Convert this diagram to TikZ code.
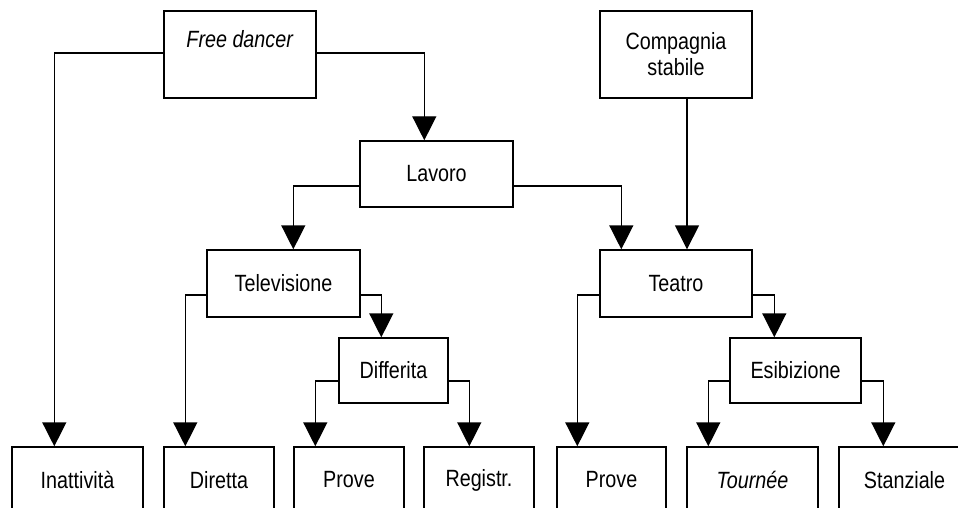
\documentclass[tikz,border=0pt]{standalone}
\usepackage{fontspec}
\setmainfont{Liberation Sans}[FakeStretch=0.84]
\usetikzlibrary{arrows.meta}
\begin{document}
\begin{tikzpicture}[x=1pt,y=-1pt,
  box/.style={draw=black,line width=1.4pt,inner sep=0pt,fill=white,
    font=\fontsize{23.5}{28}\selectfont,align=center},
  conn/.style={draw=black,line width=1.4pt,-{Triangle[width=24pt,length=24pt]}}]
\useasboundingbox (0,0) rectangle (958,508);
\clip (0,0) rectangle (958,508);
\fill[white] (0,0) rectangle (958,508);
% top row
\node[box,minimum width=152pt,minimum height=87pt] (FD) at (240,54.5) {\textit{Free dancer}\\[-2pt]\phantom{g}};
\node[box,minimum width=152pt,minimum height=87pt] (CS) at (676,54.5) {Compagnia\\[-2pt]stabile};
% level 2
\node[box,minimum width=153pt,minimum height=66pt] (Lav) at (436.5,174) {Lavoro};
% level 3
\node[box,minimum width=153pt,minimum height=67pt] (Tel) at (283.5,283.5) {Televisione};
\node[box,minimum width=152pt,minimum height=67pt] (Tea) at (676,283.5) {Teatro};
% level 4
\node[box,minimum width=109pt,minimum height=65pt] (Dif) at (393.5,370.5) {Differita};
\node[box,minimum width=131pt,minimum height=65pt] (Esi) at (795.5,370.5) {Esibizione};
% bottom row
\node[box,minimum width=131pt,minimum height=66pt] (Ina) at (77.5,480) {Inattività};
\node[box,minimum width=110pt,minimum height=66pt] (Dir) at (219,480) {Diretta};
\node[box,minimum width=110pt,minimum height=66pt] (Pro1) at (349,480) {Prove};
\node[box,minimum width=110pt,minimum height=66pt] (Reg) at (479,480) {Registr.};
\node[box,minimum width=109pt,minimum height=66pt] (Pro2) at (611.5,480) {Prove};
\node[box,minimum width=131pt,minimum height=66pt] (Tou) at (752.5,480) {\textit{Tournée}};
\node[box,minimum width=131pt,minimum height=66pt] (Sta) at (904.5,480) {Stanziale};
% connectors
\draw[conn] ([yshift=1.5pt]FD.west) -| ([xshift=43pt]Ina.north west);
\draw[conn] ([yshift=1.5pt]FD.east) -| ([xshift=65pt]Lav.north west);
\draw[conn] ([yshift=-12pt]Lav.west) -| ([xshift=87pt]Tel.north west);
\draw[conn] ([yshift=-12pt]Lav.east) -| ([xshift=22pt]Tea.north west);
\draw[conn] ([xshift=11pt]CS.south) -- ([xshift=11pt]Tea.north);
\draw[conn] ([yshift=-11.5pt]Tel.west) -| ([xshift=22pt]Dir.north west);
\draw[conn] ([yshift=-11.5pt]Tel.east) -| ([xshift=43pt]Dif.north west);
\draw[conn] ([yshift=-10.5pt]Dif.west) -| ([xshift=22pt]Pro1.north west);
\draw[conn] ([yshift=-10.5pt]Dif.east) -| ([xshift=46pt]Reg.north west);
\draw[conn] ([yshift=-11.5pt]Tea.west) -| ([xshift=21pt]Pro2.north west);
\draw[conn] ([yshift=-11.5pt]Tea.east) -| ([xshift=45pt]Esi.north west);
\draw[conn] ([yshift=-10.5pt]Esi.west) -| ([xshift=22pt]Tou.north west);
\draw[conn] ([yshift=-10.5pt]Esi.east) -| ([xshift=45pt]Sta.north west);
\end{tikzpicture}
\end{document}
